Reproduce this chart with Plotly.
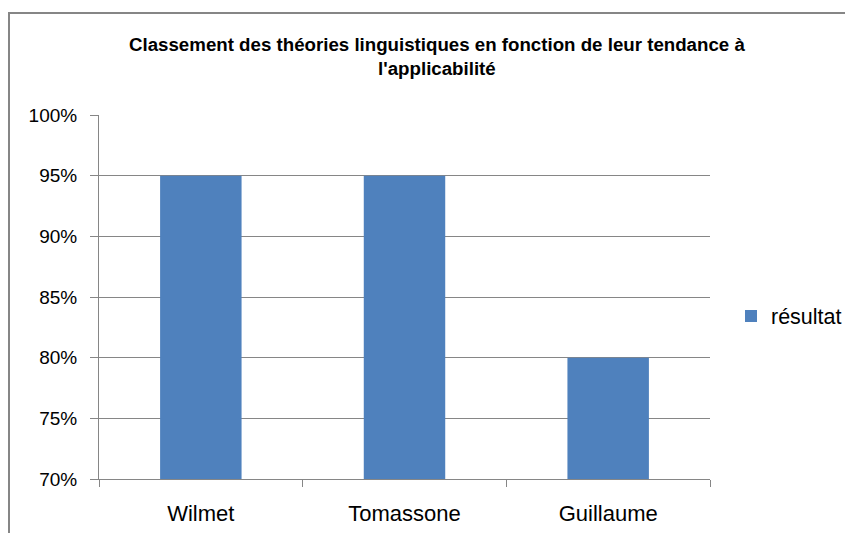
import plotly.graph_objects as go

categories = ["Wilmet", "Tomassone", "Guillaume"]
values = [0.95, 0.95, 0.80]
series_name = "résultat"
tick_vals = [0.70, 0.75, 0.80, 0.85, 0.90, 0.95, 1.00]
grid_vals = [0.75, 0.80, 0.85, 0.90, 0.95]
title_text = "Classement des théories linguistiques en fonction de leur tendance à<br>l'applicabilité"

# page body has an 8px margin; figure coordinates are screen minus 8
W, H = 853, 533
L, T = 91, 107
pw, ph = 611, 364
R = W - L - pw
B = H - T - ph

def px(sx):
    return (sx - 99) / pw

def py(sy):
    return (479 - sy) / ph

fig = go.Figure()
fig.add_trace(go.Bar(x=categories, y=values, name=series_name,
                     marker=dict(color="#4F81BD", line=dict(width=0))))
fig.add_trace(go.Scatter(x=categories, y=values, yaxis="y2", mode="markers",
                         marker=dict(opacity=0), showlegend=False, hoverinfo="skip"))

axis_gray = "#868686"
fig.update_layout(
    width=W, height=H,
    margin=dict(l=L, r=R, t=T, b=B),
    paper_bgcolor="white", plot_bgcolor="white",
    font=dict(family="Liberation Sans, Arial, sans-serif", color="#000000", size=19),
    bargap=0.6,
    showlegend=True,
    legend=dict(xref="container", x=(731 - 8) / W, y=py(316),
                xanchor="left", yanchor="middle",
                font=dict(size=21.5), itemwidth=30, bgcolor="rgba(0,0,0,0)"),
    xaxis=dict(type="category", showgrid=False, showline=True, linecolor=axis_gray,
               linewidth=1, ticks="outside", tickson="boundaries", ticklen=7,
               tickcolor=axis_gray, ticklabelstandoff=15,
               tickfont=dict(size=22)),
    yaxis=dict(range=[0.70, 1.00], tickvals=tick_vals, tickformat=".0%",
               showgrid=False, showline=True, linecolor=axis_gray, linewidth=1,
               ticks="outside", ticklen=8, tickcolor=axis_gray,
               ticklabelstandoff=9, zeroline=False, tickfont=dict(size=19)),
    yaxis2=dict(range=[0.70, 1.00], tickvals=grid_vals, overlaying="y",
                showgrid=True, gridcolor=axis_gray, gridwidth=1,
                showticklabels=False, showline=False, zeroline=False, ticks=""),
    annotations=[dict(text="<b>" + title_text + "</b>", xref="paper", yref="paper",
                      x=px(437), y=py(57), xanchor="center", yanchor="middle",
                      showarrow=False, align="center",
                      font=dict(size=18.7, family="Liberation Sans, sans-serif"))],
    shapes=[
        dict(type="line", xref="paper", yref="paper", x0=px(8), x1=px(861),
             y0=py(13), y1=py(13), line=dict(color=axis_gray, width=2)),
        dict(type="line", xref="paper", yref="paper", x0=px(9), x1=px(9),
             y0=py(13), y1=py(541), line=dict(color=axis_gray, width=2)),
    ],
)

fig.write_html("out.html")
